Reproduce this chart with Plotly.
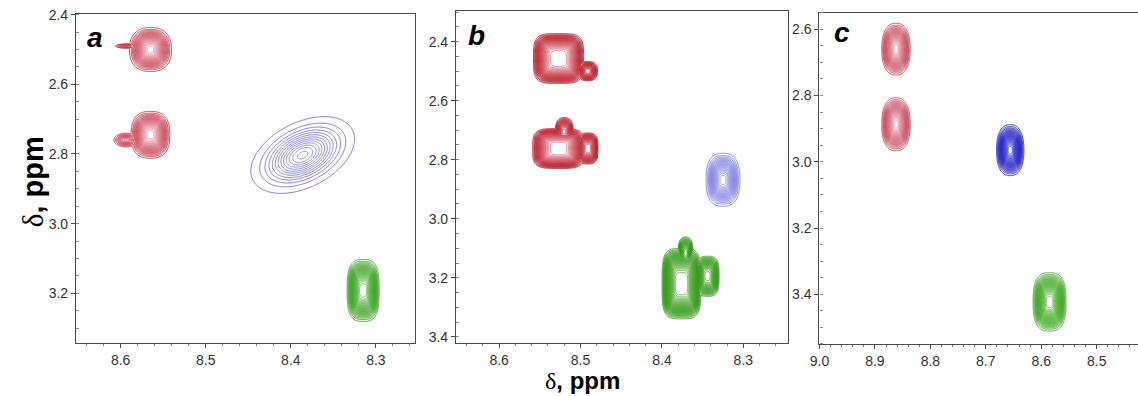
import numpy as np
import plotly.graph_objects as go

# ---------------- data ----------------
panel_names = ["a", "b", "c"]
x_range = {"a": [8.6525, 8.254], "b": [8.653, 8.2455], "c": [9.0, 8.4255]}
y_range = {"a": [3.343, 2.398], "b": [3.42, 2.296], "c": [3.551, 2.55]}
x_dom = {"a": [0.0668, 0.3647], "b": [0.4007, 0.6922], "c": [0.7201, 1.0]}
y_dom = {"a": [0.1338, 0.9646], "b": [0.1346, 0.9722], "c": [0.1306, 0.968]}

# peak components: panel, group, centre (x, y), visible half widths, relative height, squareness, tilt
peak_panel = ["a", "a", "a", "a", "a", "a", "a",
              "b", "b", "b", "b", "b", "b", "b", "b", "b",
              "c", "c", "c", "c"]
peak_group = ["red", "red", "red", "red", "blue", "blue", "green",
              "red", "red", "red", "red", "red", "blue", "green", "green", "green",
              "red", "red", "blue", "green"]
peak_x = [8.565, 8.594, 8.565, 8.594, 8.386, 8.420, 8.315,
          8.527, 8.491, 8.527, 8.520, 8.491, 8.325, 8.376, 8.371, 8.344,
          8.862, 8.862, 8.656, 8.585]
peak_y = [2.500, 2.490, 2.745, 2.760, 2.803, 2.845, 3.192,
          2.457, 2.500, 2.762, 2.705, 2.762, 2.868, 3.220, 3.115, 3.195,
          2.660, 2.887, 2.965, 3.423]
peak_hx = [0.025, 0.016, 0.023, 0.017, 0.062, 0.030, 0.019,
           0.031, 0.013, 0.032, 0.012, 0.013, 0.021, 0.024, 0.010, 0.015,
           0.026, 0.026, 0.025, 0.030]
peak_hy = [0.064, 0.008, 0.068, 0.024, 0.102, 0.040, 0.090,
           0.085, 0.036, 0.068, 0.052, 0.055, 0.091, 0.120, 0.058, 0.072,
           0.079, 0.081, 0.078, 0.089]
peak_h = [1.0, 0.30, 1.0, 0.40, 1.0, 0.20, 1.0,
          1.0, 0.55, 1.0, 0.60, 0.70, 1.0, 1.0, 0.60, 0.65,
          1.0, 1.0, 1.0, 1.0]
peak_sq = [1.2, 1.0, 1.3, 1.0, 1.0, 1.0, 1.5,
           2.0, 1.3, 2.0, 1.3, 1.6, 1.3, 2.0, 1.3, 1.6,
           1.2, 1.2, 1.2, 1.4]
peak_tilt = [0, 0, 0, 0, 0.75, 0, 0,
             0, 0, 0, 0, 0, 0, 0, 0, 0,
             0, 0, 0, 0]

# line colours (outer -> inner) per panel/group
group_colors = {
    ("a", "red"): ["#c0283e", "#eaa2ad"],
    ("a", "blue"): ["#6b6bd2", "#8c8ce0"],
    ("a", "green"): ["#2f9a14", "#60b84a"],
    ("b", "red"): ["#b3101f", "#e07d88"],
    ("b", "blue"): ["#6f6fdc", "#9a9ae8"],
    ("b", "green"): ["#2e9612", "#5aae40"],
    ("c", "red"): ["#c23a4c", "#e6a0aa"],
    ("c", "blue"): ["#1616c0", "#5050d8"],
    ("c", "green"): ["#33a016", "#68bc4c"],
}
n_levels = {"a": {"red": 26, "blue": 13, "green": 28},
            "b": {"red": 32, "blue": 22, "green": 34},
            "c": {"red": 30, "blue": 30, "green": 30}}

x_title = "δ, ppm"
y_title = "δ, ppm"

# ---------------- build figure ----------------
fig = go.Figure()
L0 = 0.05      # lowest contour level
LE = 0.045     # level reached at the visible half width

for pi, p in enumerate(panel_names):
    xa = "x" if pi == 0 else f"x{pi+1}"
    ya = "y" if pi == 0 else f"y{pi+1}"
    for g in ["red", "blue", "green"]:
        idx = [i for i in range(len(peak_panel)) if peak_panel[i] == p and peak_group[i] == g]
        if not idx:
            continue
        x0 = min(peak_x[i] - 1.6 * peak_hx[i] for i in idx)
        x1 = max(peak_x[i] + 1.6 * peak_hx[i] for i in idx)
        y0 = min(peak_y[i] - 1.6 * peak_hy[i] - abs(peak_tilt[i]) * peak_hx[i] for i in idx)
        y1 = max(peak_y[i] + 1.6 * peak_hy[i] + abs(peak_tilt[i]) * peak_hx[i] for i in idx)
        gx = np.linspace(x0, x1, 180)
        gy = np.linspace(y0, y1, 180)
        X, Y = np.meshgrid(gx, gy)
        Z = np.zeros_like(X)
        for i in idx:
            q = peak_sq[i]
            ue = (2 * np.log(1 / LE)) ** (1 / (2 * q))
            dx = X - peak_x[i]
            dy = (Y - peak_y[i]) - peak_tilt[i] * (X - peak_x[i])
            u = np.abs(dx / peak_hx[i] * ue)
            v = np.abs(dy / peak_hy[i] * ue)
            if q == 1.0:
                f = np.exp(-0.5 * (u ** 2 + v ** 2))
            else:
                f = np.exp(-0.5 * (u ** (2 * q) + v ** (2 * q)))
            Z = np.maximum(Z, peak_h[i] * f)
        n = n_levels[p][g]
        c0, c1 = group_colors[(p, g)]
        fig.add_trace(go.Contour(
            x=np.round(gx, 5), y=np.round(gy, 5), z=np.round(Z, 4),
            xaxis=xa, yaxis=ya,
            contours=dict(start=L0, end=0.97, size=(0.97 - L0) / (n - 1), coloring="lines"),
            colorscale=[[0, c0], [1, c1]], showscale=False,
            line=dict(width=0.9), hoverinfo="skip",
        ))

axis_common = dict(showline=True, linecolor="#4a4a4a", linewidth=1.2, mirror=True,
                   ticks="outside", ticklen=4, tickcolor="#4a4a4a",
                   showgrid=False, zeroline=False, automargin=False,
                   tickfont=dict(family="Liberation Sans, Arial", size=14, color="#333"))
layout = dict(width=1138, height=396, margin=dict(l=0, r=0, t=0, b=0, autoexpand=False),
              paper_bgcolor="white", plot_bgcolor="white", showlegend=False)
for pi, p in enumerate(panel_names):
    xk = "xaxis" if pi == 0 else f"xaxis{pi+1}"
    yk = "yaxis" if pi == 0 else f"yaxis{pi+1}"
    ya = "y" if pi == 0 else f"y{pi+1}"
    xa = "x" if pi == 0 else f"x{pi+1}"
    layout[xk] = dict(axis_common, domain=x_dom[p], range=x_range[p], anchor=ya,
                      dtick=0.1, tick0=8.0, tickformat=".1f",
                      minor=dict(dtick=0.02, tick0=8.0, ticks="outside", ticklen=2, tickcolor="#777"))
    layout[yk] = dict(axis_common, domain=y_dom[p], range=y_range[p], anchor=xa,
                      dtick=0.2, tick0=2.0, tickformat=".1f",
                      minor=dict(dtick=0.05, tick0=2.0, ticks="inside", ticklen=3, tickcolor="#888"))
fig.update_layout(**layout)

annots = []
label_pos = {"a": (0.0835, 0.905), "b": (0.419, 0.911), "c": (0.740, 0.918)}
for p in panel_names:
    annots.append(dict(text=f"<b><i>{p}</i></b>", x=label_pos[p][0], y=label_pos[p][1],
                       xref="paper", yref="paper", showarrow=False,
                       xanchor="center", yanchor="middle",
                       font=dict(family="Liberation Sans, Arial", size=28, color="black")))

def styled(t):
    return ("<span style='font-family:Liberation Serif'>" + t[0] + "</span>"
            "<b>" + t[1:] + "</b>")

annots.append(dict(text=styled(x_title), x=0.512, y=0.040, xref="paper", yref="paper",
                   showarrow=False, xanchor="center", yanchor="middle",
                   font=dict(family="Liberation Sans, Arial", size=24, color="black")))
annots.append(dict(text=styled(y_title), x=0.029, y=0.54, xref="paper", yref="paper",
                   showarrow=False, textangle=-90, xanchor="center", yanchor="middle",
                   font=dict(family="Liberation Sans, Arial", size=29, color="black")))
fig.update_layout(annotations=annots)

fig.write_html("out.html", config={"displayModeBar": False},
               post_script="document.body.style.margin='0';document.body.style.padding='0';")
